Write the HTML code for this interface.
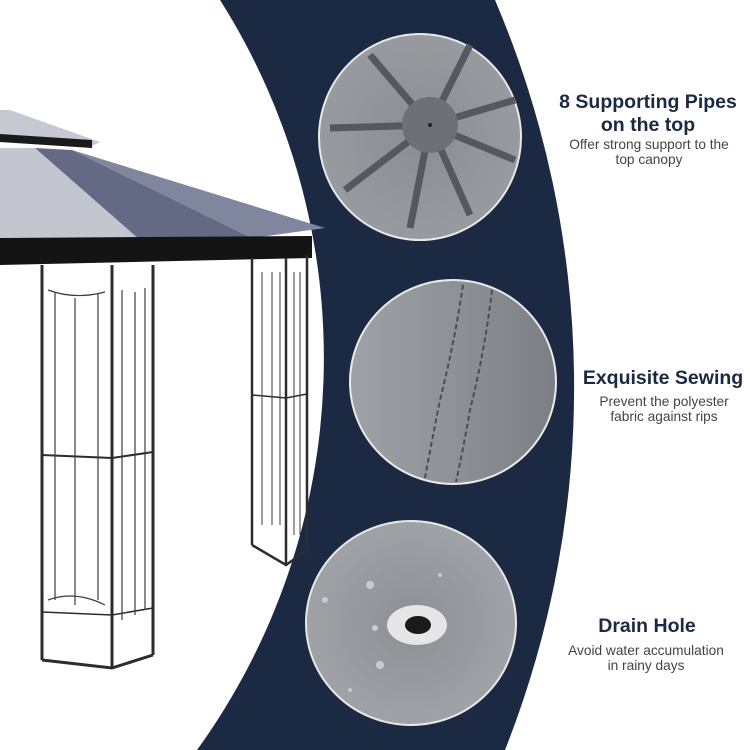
<!DOCTYPE html>
<html><head><meta charset="utf-8"><style>
html,body{margin:0;padding:0;background:#fff}
svg{display:block}
</style></head><body>
<svg width="750" height="750" viewBox="0 0 750 750" xmlns="http://www.w3.org/2000/svg">
<defs>
<radialGradient id="g1" cx="50%" cy="50%" r="60%"><stop offset="0" stop-color="#8a8e94"/><stop offset="1" stop-color="#9a9da2"/></radialGradient>
<linearGradient id="g2" x1="0" y1="0" x2="1" y2="0"><stop offset="0" stop-color="#9ea2a7"/><stop offset="0.5" stop-color="#8e9297"/><stop offset="1" stop-color="#7b7f85"/></linearGradient>
<radialGradient id="g3" cx="50%" cy="50%" r="60%"><stop offset="0" stop-color="#8c9095"/><stop offset="1" stop-color="#a3a6aa"/></radialGradient>
</defs>
<rect width="750" height="750" fill="#fff"/>
<path d="M220,0 L495,0 A987,987 0 0 1 505,750 L197,750 A669,669 0 0 0 220,0 Z" fill="#1b2942"/>
<polygon points="0,110 10,110 100,142 92,146 0,136" fill="#c6c9d1"/>
<polygon points="0,134 92,140 92,148 0,142" fill="#1a1a1a"/>
<polygon points="0,148 35,148 140,240 0,240" fill="#c3c6cf"/>
<polygon points="35,148 72,150 252,238 140,240" fill="#646a84"/>
<polygon points="72,150 325,228 252,238" fill="#80869e"/>
<polygon points="0,238 312,236 312,258 0,265" fill="#141414"/>
<g stroke="#2a2c31" stroke-width="3" fill="none">
<line x1="42" y1="265" x2="42" y2="660"/>
<line x1="112" y1="265" x2="112" y2="668"/>
<line x1="153" y1="265" x2="153" y2="655"/>
<polyline points="42,660 112,668 153,655"/>
<line x1="42" y1="455" x2="112" y2="458" stroke-width="2"/>
<line x1="112" y1="458" x2="153" y2="452" stroke-width="2"/>
<line x1="42" y1="612" x2="112" y2="615" stroke-width="1.5"/>
<line x1="112" y1="615" x2="153" y2="608" stroke-width="1.5"/>
</g>
<g stroke="#3a3c42" stroke-width="1.2" fill="none">
<path d="M48,290 Q75,300 105,292"/><line x1="55" y1="293" x2="55" y2="600"/><line x1="75" y1="298" x2="75" y2="605"/><line x1="98" y1="294" x2="98" y2="600"/>
<path d="M48,600 Q75,590 105,605"/>
<line x1="122" y1="290" x2="122" y2="620"/><line x1="135" y1="292" x2="135" y2="615"/><line x1="145" y1="288" x2="145" y2="610"/>
</g>
<g stroke="#2a2c31" stroke-width="2.5" fill="none">
<line x1="252" y1="258" x2="252" y2="545"/>
<line x1="286" y1="258" x2="286" y2="565"/>
<line x1="307" y1="255" x2="307" y2="550"/>
<polyline points="252,545 286,565 307,550"/>
<line x1="252" y1="395" x2="286" y2="398" stroke-width="1.5"/>
<line x1="286" y1="398" x2="307" y2="394" stroke-width="1.5"/>
</g>
<g stroke="#3a3c42" stroke-width="1" fill="none">
<line x1="262" y1="272" x2="262" y2="525"/><line x1="272" y1="272" x2="272" y2="525"/><line x1="280" y1="272" x2="280" y2="525"/>
<line x1="294" y1="272" x2="294" y2="535"/><line x1="300" y1="272" x2="300" y2="535"/>
</g>
<ellipse cx="420" cy="137" rx="101" ry="103" fill="url(#g1)" stroke="#e8e8e8" stroke-width="2"/>
<g stroke="#55585e" stroke-width="7">
<line x1="430" y1="125" x2="330" y2="128"/><line x1="430" y1="125" x2="370" y2="55"/><line x1="430" y1="125" x2="470" y2="45"/>
<line x1="430" y1="125" x2="515" y2="100"/><line x1="430" y1="125" x2="515" y2="160"/><line x1="430" y1="125" x2="470" y2="215"/>
<line x1="430" y1="125" x2="410" y2="228"/><line x1="430" y1="125" x2="345" y2="190"/>
</g>
<circle cx="430" cy="125" r="28" fill="#6d7076"/>
<circle cx="430" cy="125" r="2" fill="#222"/>
<ellipse cx="453" cy="382" rx="103" ry="102" fill="url(#g2)" stroke="#e8e8e8" stroke-width="2"/>
<path d="M463,285 Q455,340 440,400 Q432,440 425,478" stroke="#4a4d52" stroke-width="2" stroke-dasharray="5,3" fill="none"/>
<path d="M492,290 Q485,350 470,410 Q463,450 456,482" stroke="#4a4d52" stroke-width="2" stroke-dasharray="5,3" fill="none"/>
<ellipse cx="411" cy="623" rx="105" ry="102" fill="url(#g3)" stroke="#e8e8e8" stroke-width="2"/>
<ellipse cx="417" cy="625" rx="30" ry="20" fill="#e6e6e6"/>
<ellipse cx="418" cy="625" rx="13" ry="9" fill="#1a1a1a"/>
<g fill="#c8cacd"><circle cx="370" cy="585" r="4"/><circle cx="375" cy="628" r="3"/><circle cx="380" cy="665" r="4"/><circle cx="325" cy="600" r="3"/><circle cx="440" cy="575" r="2"/><circle cx="350" cy="690" r="2"/></g>
<g font-family="Liberation Sans, sans-serif" text-anchor="middle">
<text x="648" y="108" font-size="19.5" font-weight="bold" fill="#1b2942">8 Supporting Pipes</text>
<text x="648" y="131" font-size="19.5" font-weight="bold" fill="#1b2942">on the top</text>
<text x="649" y="149" font-size="13.7" fill="#444">Offer strong support to the</text>
<text x="649" y="164" font-size="13.7" fill="#444">top canopy</text>
<text x="663" y="384" font-size="19.5" font-weight="bold" fill="#1b2942">Exquisite Sewing</text>
<text x="664" y="406" font-size="13.7" fill="#444">Prevent the polyester</text>
<text x="664" y="421" font-size="13.7" fill="#444">fabric against rips</text>
<text x="647" y="632" font-size="19.5" font-weight="bold" fill="#1b2942">Drain Hole</text>
<text x="646" y="655" font-size="13.7" fill="#444">Avoid water accumulation</text>
<text x="646" y="670" font-size="13.7" fill="#444">in rainy days</text>
</g>
</svg>
</body></html>
